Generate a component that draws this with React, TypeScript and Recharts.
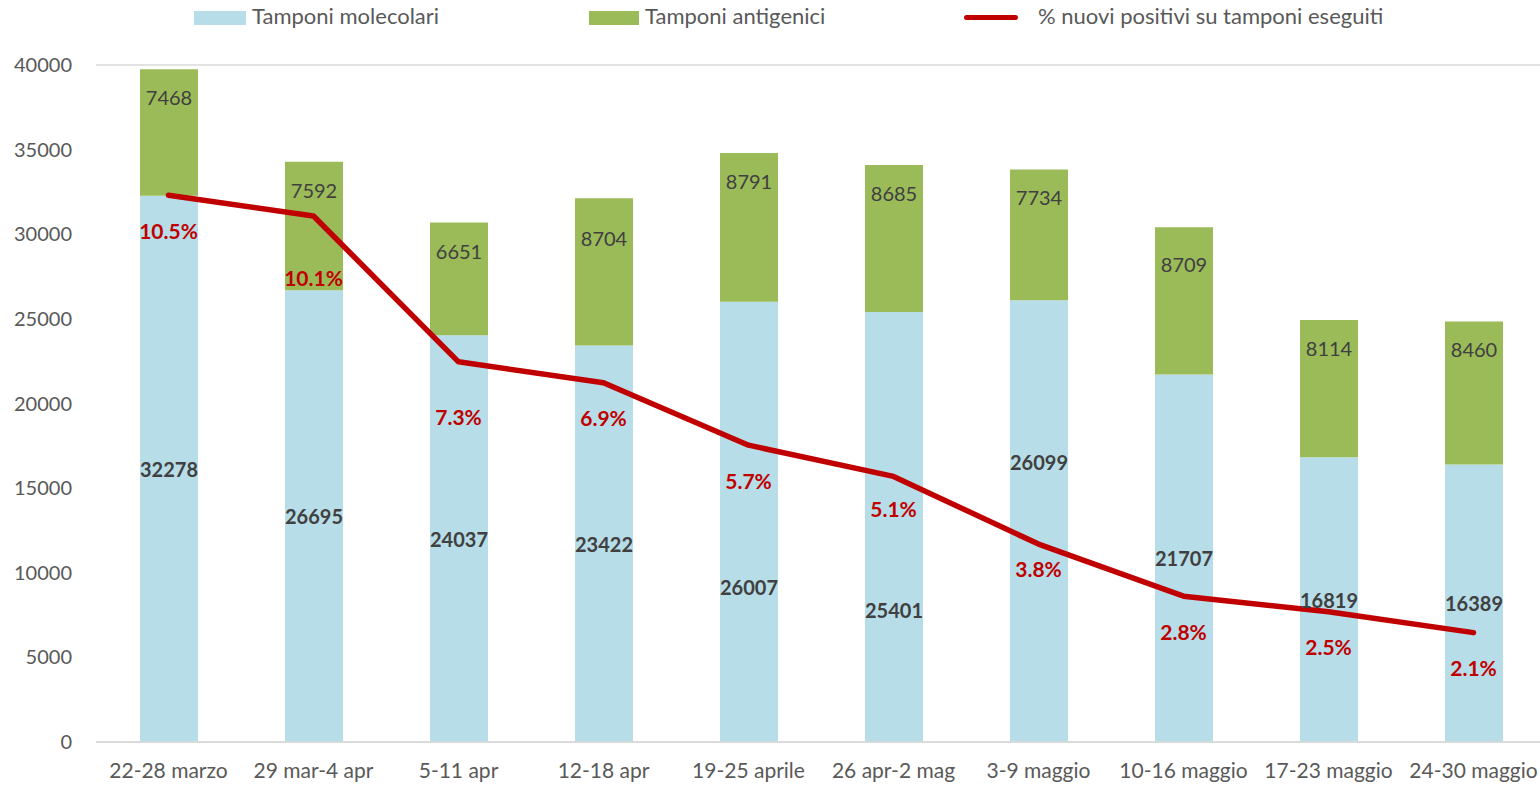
import { ComposedChart, Bar, Line, XAxis, YAxis, CartesianGrid, LabelList } from "recharts";

const weeks = [
  "22-28 marzo",
  "29 mar-4 apr",
  "5-11 apr",
  "12-18 apr",
  "19-25 aprile",
  "26 apr-2 mag",
  "3-9 maggio",
  "10-16 maggio",
  "17-23 maggio",
  "24-30 maggio",
];
const molecolari = [32278, 26695, 24037, 23422, 26007, 25401, 26099, 21707, 16819, 16389];
const antigenici = [7468, 7592, 6651, 8704, 8791, 8685, 7734, 8709, 8114, 8460];
const positivi = [10.5, 10.1, 7.3, 6.9, 5.7, 5.1, 3.8, 2.8, 2.5, 2.1];
const yTicks = [0, 5000, 10000, 15000, 20000, 25000, 30000, 35000, 40000];

// hand-moved labels in the original (px, vertical)
const molShift = [0, 0, 0, 0, 65, 83, -59, 0, 0, 0];
const antShift = [0, 0, 0, 12, 0, 0, 0, 9, 0, 0];
const pctShift = [0, 26, 20, 0, 0, -3, -11, 0, 0, 0];

const FONT = "Lato, 'Open Sans', sans-serif";
const BLUE = "#B7DDE8";
const GREEN = "#9BBB59";
const RED = "#C00000";
const GREY = "#595959";
const DARK = "#404040";

const data = weeks.map((w, i) => ({
  week: w,
  mol: molecolari[i],
  ant: antigenici[i],
  pct: positivi[i],
}));

function LegendRow() {
  const text = { position: "absolute" as const, top: 2, fontSize: 22, color: GREY, fontFamily: FONT, lineHeight: "28px", whiteSpace: "nowrap" as const };
  return (
    <>
      <div style={{ position: "absolute", left: 194, top: 11, width: 52, height: 14, background: BLUE }} />
      <div style={{ ...text, left: 252 }}>Tamponi molecolari</div>
      <div style={{ position: "absolute", left: 589, top: 11, width: 50, height: 14, background: GREEN }} />
      <div style={{ ...text, left: 645 }}>Tamponi antigenici</div>
      <div style={{ position: "absolute", left: 964, top: 15, width: 54, height: 5, borderRadius: 3, background: RED }} />
      <div style={{ ...text, left: 1038 }}>% nuovi positivi su tamponi eseguiti</div>
    </>
  );
}

const MolLabel = (p: any) => (
  <text
    x={p.x + p.width / 2}
    y={p.y + p.height / 2 + (molShift[p.index] ?? 0)}
    textAnchor="middle"
    dominantBaseline="central"
    fill={DARK}
    fontSize={20}
    fontWeight="bold"
  >
    {p.value}
  </text>
);

const AntLabel = (p: any) => (
  <text
    x={p.x + p.width / 2}
    y={p.y + 28 + (antShift[p.index] ?? 0)}
    textAnchor="middle"
    dominantBaseline="central"
    fill={DARK}
    fontSize={20}
  >
    {p.value}
  </text>
);

const PctLabel = (p: any) => (
  <text
    x={p.x}
    y={p.y + 35 + (pctShift[p.index] ?? 0)}
    textAnchor="middle"
    dominantBaseline="central"
    fill={RED}
    fontSize={21}
    fontWeight="bold"
  >
    {Number(p.value).toFixed(1) + "%"}
  </text>
);

export default function App() {
  return (
    <div style={{ position: "absolute", left: 0, top: 0, width: 1540, height: 786, overflow: "hidden", background: "#fff" }}>
      <LegendRow />
      <ComposedChart
        width={1560}
        height={786}
        data={data}
        margin={{ top: 65, right: 14, bottom: 14, left: 0 }}
        style={{ fontFamily: FONT }}
      >
        <CartesianGrid vertical={false} stroke="#D9D9D9" strokeWidth={1.5} />
        <XAxis
          dataKey="week"
          height={30}
          tickLine={false}
          tickSize={0}
          tickMargin={21}
          axisLine={{ stroke: "#D9D9D9", strokeWidth: 1.5 }}
          tick={{ fill: GREY, fontSize: 21 }}
          interval={0}
        />
        <YAxis
          yAxisId="left"
          width={96}
          domain={[0, 40000]}
          ticks={yTicks}
          tickLine={false}
          axisLine={false}
          tickSize={0}
          tickMargin={24}
          tick={{ fill: GREY, fontSize: 20 }}
        />
        <YAxis yAxisId="right" orientation="right" domain={[0, 13]} hide />
        <Bar yAxisId="left" dataKey="mol" stackId="s" fill={BLUE} barSize={58} isAnimationActive={false}>
          <LabelList dataKey="mol" content={MolLabel} />
        </Bar>
        <Bar yAxisId="left" dataKey="ant" stackId="s" fill={GREEN} barSize={58} isAnimationActive={false}>
          <LabelList dataKey="ant" content={AntLabel} />
        </Bar>
        <Line
          yAxisId="right"
          dataKey="pct"
          stroke={RED}
          strokeWidth={5.5}
          strokeLinejoin="round"
          strokeLinecap="round"
          dot={false}
          activeDot={false}
          isAnimationActive={false}
        >
          <LabelList dataKey="pct" content={PctLabel} />
        </Line>
      </ComposedChart>
    </div>
  );
}
